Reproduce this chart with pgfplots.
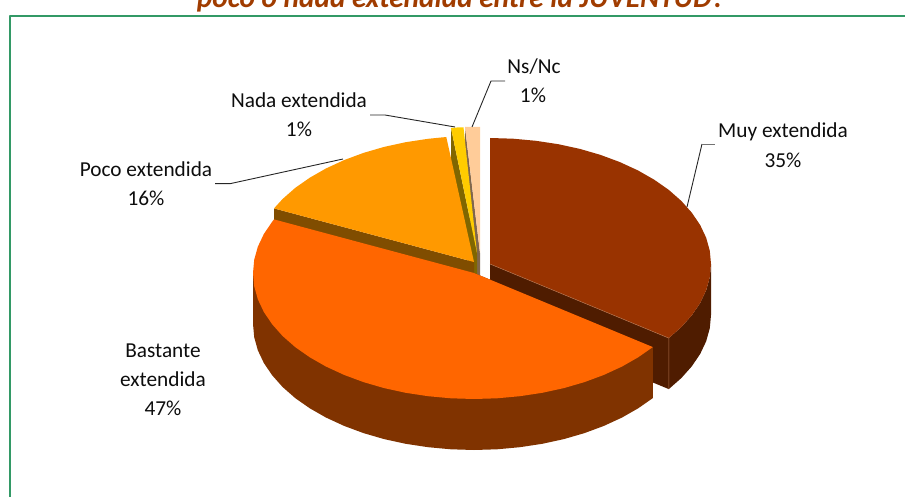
\documentclass[border=0pt]{standalone}
\usepackage{pgfplots}
\pgfplotsset{compat=1.18}
\usepackage{fontspec}
\setmainfont{Carlito}
% pie colours, side faces are the same hue at half strength
\definecolor{marron}{HTML}{993300}
\definecolor{marronside}{HTML}{4F1C00}
\definecolor{naranja}{HTML}{FF6600}
\definecolor{naranjaside}{HTML}{803300}
\definecolor{ambar}{HTML}{FF9900}
\definecolor{ambarside}{HTML}{804D00}
\definecolor{amarillo}{HTML}{FFCC00}
\definecolor{amarilloside}{HTML}{806600}
\definecolor{melocoton}{HTML}{FFCC99}
\definecolor{melocotonside}{HTML}{80664D}
\definecolor{marco}{HTML}{339966}
\definecolor{titulo}{HTML}{A03C00}
\definecolor{filo}{HTML}{B0704A}
\tikzset{
    lbl/.style={font=\fontsize{21.3}{29}\selectfont, text=black!95, inner sep=0pt, anchor=base},
    leader/.style={draw=black!85, line width=0.9pt},
}
\begin{document}
\begin{tikzpicture}
% hidden axis lines do not count for the page size
\useasboundingbox (0,0) rectangle (905pt,497pt);
\begin{axis}[
    at={(0,0)}, anchor=south west,
    scale only axis, width=905pt, height=497pt,
    xmin=0, xmax=905, ymin=0, ymax=497,
    y dir=reverse,
    axis lines=none,
    no markers,
    every axis plot/.style={draw=none, line join=round},
]
% frame
\addplot[draw=marco, line width=2pt] coordinates {(10,497) (10,16) (905,16)};

% Ns/Nc
\addplot[fill=melocotonside] coordinates {(465,127) (480,253) (480,304) (465,178)};
\addplot[fill=melocoton] coordinates {(465,127) (480,127) (480,253)};
% Nada extendida
\addplot[fill=amarilloside] coordinates {(451,128) (477,253) (477,304) (451,179)};
\addplot[fill=amarillo] coordinates {(451,128) (457,127.5) (463.5,127.3) (477,253)};
% Poco extendida
\addplot[fill=ambarside] coordinates {(474,262) (274,208.4) (274,259.4) (474,313)};
\addplot[fill=ambar] coordinates {(474,262) (274,208.4) (282.6,199) (295.2,187.9) (309.8,177.7) (326.1,168.4)
    (344.1,160.1) (363.5,152.9) (384.1,146.9) (405.7,142.2) (428.1,138.8) (446.3,137)};
% Muy extendida
\addplot[fill=marronside] coordinates {(490,264) (668.8,338.1) (668.8,389.1) (490,315)};
\addplot[fill=marronside] coordinates {(711,264) (709.8,277.2) (706.2,290.2) (700.2,302.9) (691.9,315.2) (681.4,327) (668.8,338.1)
    (668.8,389.1) (681.4,378) (691.9,366.2) (700.2,353.9) (706.2,341.2) (709.8,328.2) (711,315)};
\addplot[fill=marron] coordinates {(490,264) (490,138) (513.1,138.7) (535.9,140.8) (558.3,144.2) (579.9,148.9) (600.5,154.9)
    (619.9,162.1) (637.9,170.4) (654.2,179.7) (668.8,189.9) (681.4,201) (691.9,212.8) (700.2,225.1) (706.2,237.8)
    (709.8,250.8) (711,264) (709.8,277.2) (706.2,290.2) (700.2,302.9) (691.9,315.2) (681.4,327) (668.8,338.1)};
\addplot[draw=filo, line width=0.5pt] coordinates {(490,264) (668.8,338.1) (668.8,389.1)};
% Bastante extendida
\addplot[fill=naranjaside] coordinates {(253,273) (253,324) (254.2,337.2) (257.8,350.2) (263.8,362.9) (272.1,375.2) (282.6,387)
    (295.2,398.1) (309.8,408.3) (326.1,417.6) (344.1,425.9) (363.5,433.1) (384.1,439.1) (405.7,443.8) (428.1,447.2)
    (450.9,449.3) (474,450) (497.1,449.3) (519.9,447.2) (542.3,443.8) (563.9,439.1) (584.5,433.1) (603.9,425.9)
    (621.9,417.6) (638.2,408.3) (652.8,398.1) (652.8,347.1) (474,273)};
\addplot[fill=naranja] coordinates {(474,273) (652.8,347.1) (638.2,357.3) (621.9,366.6) (603.9,374.9) (584.5,382.1) (563.9,388.1)
    (542.3,392.8) (519.9,396.2) (497.1,398.3) (474,399) (450.9,398.3) (428.1,396.2) (405.7,392.8) (384.1,388.1)
    (363.5,382.1) (344.1,374.9) (326.1,366.6) (309.8,357.3) (295.2,347.1) (282.6,336) (272.1,324.2) (263.8,311.9)
    (257.8,299.2) (254.2,286.2) (253,273) (254.2,259.8) (257.8,246.8) (263.8,234.1) (272.1,221.8) (274,219.4)};

% leader lines
\addplot[leader] coordinates {(472,127) (491,81) (505,81)};
\addplot[leader] coordinates {(370,115) (385,115) (455,127)};
\addplot[leader] coordinates {(215,183.7) (230,183.7) (343,159)};
\addplot[leader] coordinates {(687,207) (702,144)};
\addplot[draw=black!55, line width=0.9pt] coordinates {(702,144) (715,144)};

% labels, placed by baseline
\node[lbl] at (axis cs:783,138) {Muy extendida};
\node[lbl] at (axis cs:783,167.5) {35\%};
\node[lbl] at (axis cs:534,74) {Ns/Nc};
\node[lbl] at (axis cs:533,103) {1\%};
\node[lbl] at (axis cs:299,108) {Nada extendida};
\node[lbl] at (axis cs:299,137) {1\%};
\node[lbl] at (axis cs:146,176.5) {Poco extendida};
\node[lbl] at (axis cs:146,205.5) {16\%};
\node[lbl] at (axis cs:163,357) {Bastante};
\node[lbl] at (axis cs:163,386) {extendida};
\node[lbl] at (axis cs:163,415) {47\%};

% title, its upper part runs off the page
\node[anchor=base, inner sep=0pt, text=titulo, font=\fontsize{29.3}{32}\selectfont\bfseries\itshape]
    at (axis cs:461,8) {poco o nada extendida entre la JUVENTUD?};
\end{axis}
\end{tikzpicture}
\end{document}
